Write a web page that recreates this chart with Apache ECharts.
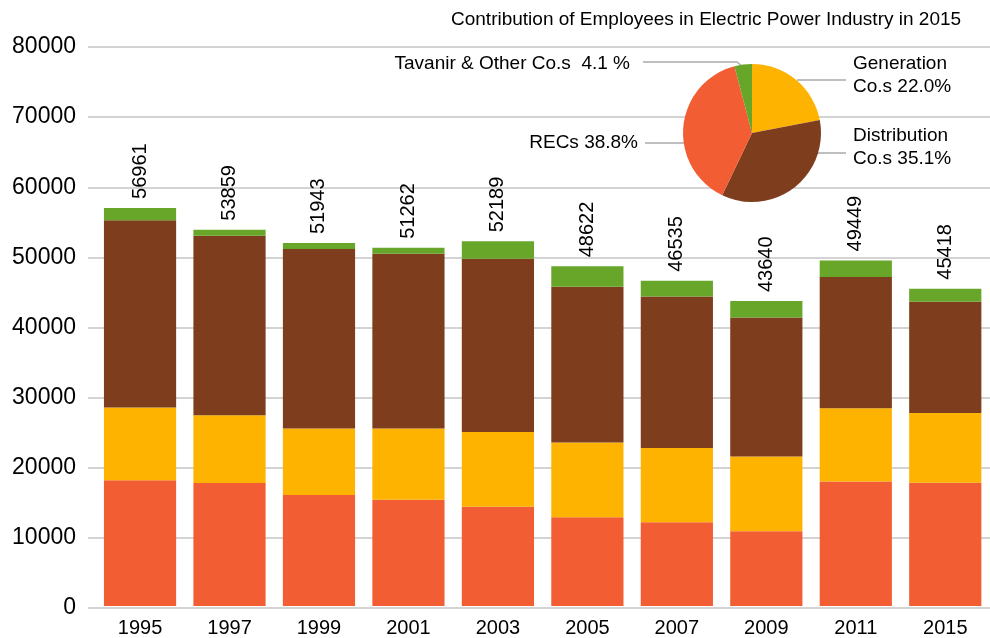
<!DOCTYPE html>
<html>
<head>
<meta charset="utf-8">
<script src="https://cdn.jsdelivr.net/npm/echarts@6/dist/echarts.min.js"></script>
<style>
  html, body { margin: 0; padding: 0; background: #fff; }
  #chart { width: 990px; height: 638px; }
</style>
</head>
<body>
<div id="chart"></div>
<script>
/* colores */
var color_recs = '#f25d34';
var color_gen = '#feb300';
var color_dist = '#7e3e1d';
var color_tav = '#67a628';
var color_grid = '#c4c4c4';

/* datos */
var years = ['1995', '1997', '1999', '2001', '2003', '2005', '2007', '2009', '2011', '2015'];
var recs = [18000, 17600, 15900, 15200, 14200, 12700, 12000, 10700, 17800, 17622];
var generation = [10400, 9700, 9500, 10200, 10700, 10700, 10600, 10700, 10500, 9992];
var distribution = [26800, 25700, 25700, 25000, 24800, 22300, 21700, 19900, 18800, 15942];
var tavanir = [1761, 859, 843, 862, 2489, 2922, 2235, 2340, 2349, 1862];
var totals = [56961, 53859, 51943, 51262, 52189, 48622, 46535, 43640, 49449, 45418];

var pie_names = ['Generation\nCo.s', 'Distribution\nCo.s', 'RECs', 'Tavanir & Other Co.s'];
var pie_values = [9992, 15942, 17622, 1862];
var pie_colors = [color_gen, color_dist, color_recs, color_tav];

var font = '"Liberation Sans", Arial, Helvetica, sans-serif';

/* posiciones de las etiquetas del pie */
var pie_label_pos = [
    { x: 853, y: 52, align: 'left', line: [[797, 80], [821, 80], [846, 80]] },
    { x: 853, y: 124, align: 'left', line: [[817, 153], [830, 153], [846, 153]] },
    { x: 638, y: 143, align: 'right', verticalAlign: 'middle', line: [[684, 143], [665, 143], [645, 143]] },
    { x: 630, y: 64, align: 'right', verticalAlign: 'middle', line: [[743, 67], [737, 62], [643, 62]] }
];

var chart = echarts.init(document.getElementById('chart'));

var option = {
    animation: false,
    textStyle: { fontFamily: font },
    title: {
        text: 'Contribution of Employees in Electric Power Industry in 2015',
        left: 446,
        top: 5,
        textStyle: { fontFamily: font, fontSize: 19, fontWeight: 'normal', color: '#000' }
    },
    grid: [
        // barras
        { left: 95.3, right: -6, top: 47, bottom: 30, containLabel: false },
        // lineas de fondo y etiquetas del eje Y
        { left: 88, right: 0, top: 47, bottom: 30, containLabel: false }
    ],
    xAxis: [
        {
            type: 'category',
            gridIndex: 0,
            data: years,
            axisTick: { show: false },
            axisLine: { show: false },
            axisLabel: { fontFamily: font, fontSize: 20, color: '#000', margin: 12 }
        },
        {
            type: 'value',
            gridIndex: 1,
            show: false
        }
    ],
    yAxis: [
        {
            type: 'value',
            gridIndex: 0,
            min: 0,
            max: 80000,
            interval: 10000,
            show: false,
            splitLine: { show: false }
        },
        {
            type: 'value',
            gridIndex: 1,
            min: 0,
            max: 80000,
            interval: 10000,
            axisLine: { show: false },
            axisTick: { show: false },
            splitLine: { lineStyle: { color: color_grid, width: 1.5 } },
            axisLabel: {
                fontFamily: font, fontSize: 23, color: '#000', margin: 12,
                formatter: function(v) { return String(v); }
            }
        }
    ],
    series: [
        {
            name: 'RECs', type: 'bar', stack: 'total', barCategoryGap: '19.3%', z: 3,
            itemStyle: { color: color_recs }, data: recs
        },
        {
            name: 'Generation Co.s', type: 'bar', stack: 'total', z: 3,
            itemStyle: { color: color_gen }, data: generation
        },
        {
            name: 'Distribution Co.s', type: 'bar', stack: 'total', z: 3,
            itemStyle: { color: color_dist }, data: distribution
        },
        {
            name: 'Tavanir & Other Co.s', type: 'bar', stack: 'total', z: 3,
            itemStyle: { color: color_tav }, data: tavanir,
            label: {
                show: true,
                position: 'top',
                rotate: 90,
                align: 'left',
                verticalAlign: 'middle',
                distance: 9,
                fontFamily: font,
                fontSize: 20,
                color: '#000',
                formatter: function(params) {
                    return String(totals[params.dataIndex]);
                }
            }
        },
        {
            name: '2015', type: 'pie',
            center: [752, 133],
            radius: 69,
            startAngle: 90,
            clockwise: true,
            z: 10,
            itemStyle: { borderWidth: 0 },
            label: {
                show: true,
                fontFamily: font,
                fontSize: 19,
                lineHeight: 23,
                color: '#000',
                formatter: function(p) {
                    if (p.dataIndex === 3) return p.name + '  ' + p.percent.toFixed(1) + ' %';
                    return p.name + ' ' + p.percent.toFixed(1) + '%';
                }
            },
            labelLine: { show: true, lineStyle: { color: '#aaaaaa', width: 1.5 } },
            labelLayout: function(params) {
                var pos = pie_label_pos[params.dataIndex];
                return {
                    x: pos.x,
                    y: pos.y,
                    align: pos.align,
                    verticalAlign: pos.verticalAlign || 'top',
                    labelLinePoints: pos.line
                };
            },
            data: pie_values.map(function(v, i) {
                return { name: pie_names[i], value: v, itemStyle: { color: pie_colors[i] } };
            })
        }
    ]
};

chart.setOption(option);
</script>
</body>
</html>
